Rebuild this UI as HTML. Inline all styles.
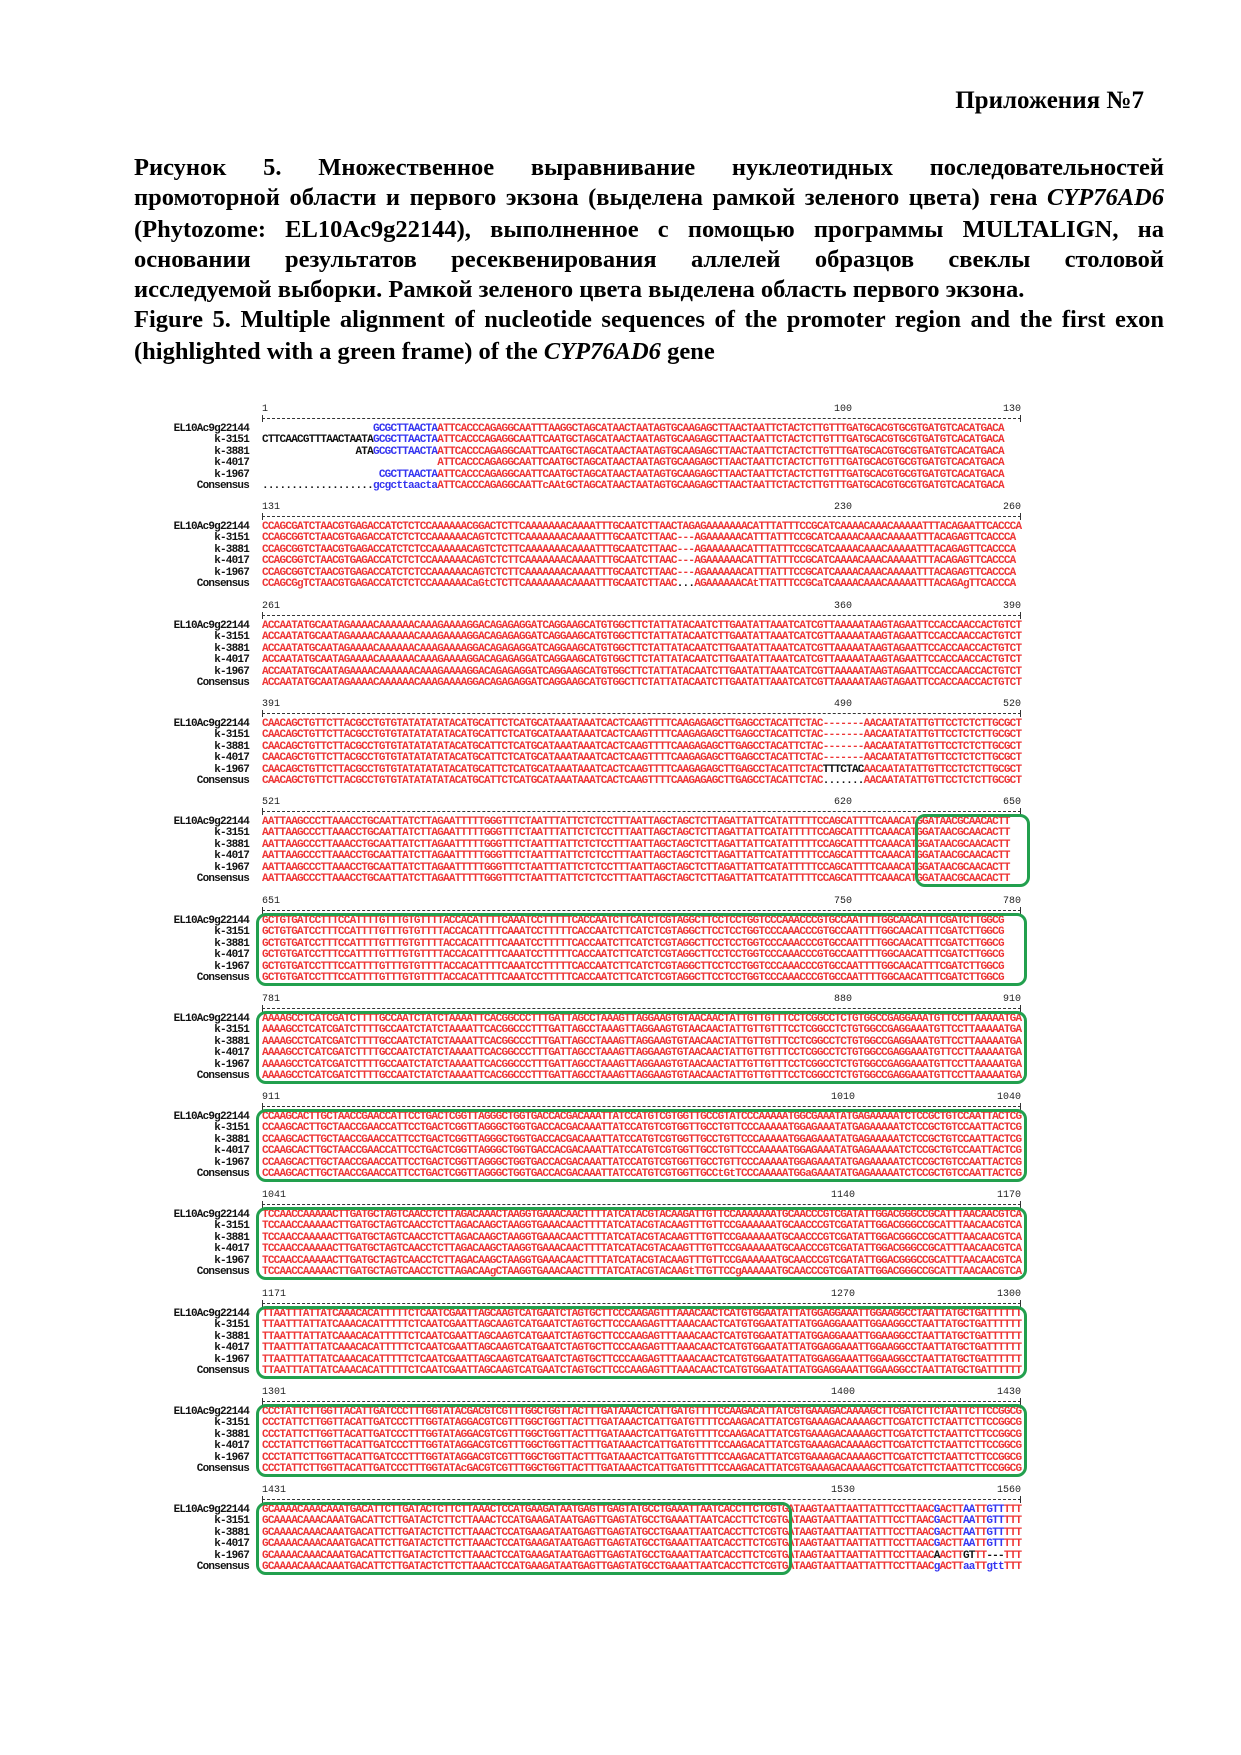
<!DOCTYPE html>
<html><head><meta charset="utf-8">
<style>
body{margin:0;background:#fff;}
#pg{position:relative;width:1241px;height:1755px;overflow:hidden;background:#fff;}
.hd{position:absolute;font-family:"Liberation Serif",serif;font-weight:bold;font-size:25px;color:#000;white-space:nowrap;}
.ln{position:absolute;left:134px;width:1030px;font-family:"Liberation Serif",serif;font-weight:bold;font-size:24.5px;line-height:31px;height:31px;color:#000;white-space:nowrap;}
.j{text-align:justify;text-align-last:justify;white-space:normal;}
.blk{position:absolute;left:0;width:1241px;height:100px;}
.num{position:absolute;top:6px;font-family:"Liberation Mono",monospace;font-size:10px;line-height:10px;color:#222;}
.rul{position:absolute;left:262px;width:759px;top:19px;border-top:1px dashed #333;height:0;}
.rul:before,.rul:after{content:"";position:absolute;top:-4px;width:1px;height:7px;background:#333;}
.rul:before{left:0}.rul:after{right:0}
.lab{position:absolute;left:140px;width:109px;top:25px;text-align:right;font-family:"Liberation Mono",monospace;font-size:11px;line-height:11.4px;letter-spacing:-0.8px;color:#111;font-weight:bold;white-space:pre;}
.seq{position:absolute;left:262px;top:25px;font-family:"Liberation Mono",monospace;font-size:11px;font-weight:bold;letter-spacing:-0.76px;line-height:11.4px;color:#ee3535;white-space:pre;}
.b{color:#3535f0}.k{color:#111}
.box{position:absolute;top:22px;height:73px;border:3px solid #22a04e;border-radius:10px;box-sizing:border-box;}
</style></head><body><div id="pg">
<div class="hd" style="right:97px;top:87px;">Приложения №7</div>
<div class="ln j" style="top:152px;">Рисунок 5. Множественное выравнивание нуклеотидных последовательностей</div>
<div class="ln j" style="top:182px;">промоторной области и первого экзона (выделена рамкой зеленого цвета) гена <i>CYP76AD6</i></div>
<div class="ln j" style="top:214px;">(Phytozome: EL10Ac9g22144), выполненное с помощью программы MULTALIGN, на</div>
<div class="ln j" style="top:244px;">основании результатов ресеквенирования аллелей образцов свеклы столовой</div>
<div class="ln" style="top:274px;">исследуемой выборки. Рамкой зеленого цвета выделена область первого экзона.</div>
<div class="ln j" style="top:304px;">Figure 5. Multiple alignment of nucleotide sequences of the promoter region and the first exon</div>
<div class="ln" style="top:336px;">(highlighted with a green frame) of the <i>CYP76AD6</i> gene</div>

<!-- Block 1 -->
<div class="blk" style="top:399px;">
<div class="num" style="left:262px;">1</div><div class="num" style="left:834px;">100</div><div class="num" style="left:1003px;">130</div>
<div class="rul"></div>
<div class="lab">EL10Ac9g22144
k-3151
k-3881
k-4017
k-1967
Consensus</div>
<div class="seq">                   <span class="b">GCGCTTAACTA</span>ATTCACCCAGAGGCAATTTAAGGCTAGCATAACTAATAGTGCAAGAGCTTAACTAATTCTACTCTTGTTTGATGCACGTGCGTGATGTCACATGACA
<span class="k">CTTCAACGTTTAACTAATA</span><span class="b">GCGCTTAACTA</span>ATTCACCCAGAGGCAATTCAATGCTAGCATAACTAATAGTGCAAGAGCTTAACTAATTCTACTCTTGTTTGATGCACGTGCGTGATGTCACATGACA
                <span class="k">ATA</span><span class="b">GCGCTTAACTA</span>ATTCACCCAGAGGCAATTCAATGCTAGCATAACTAATAGTGCAAGAGCTTAACTAATTCTACTCTTGTTTGATGCACGTGCGTGATGTCACATGACA
                              ATTCACCCAGAGGCAATTCAATGCTAGCATAACTAATAGTGCAAGAGCTTAACTAATTCTACTCTTGTTTGATGCACGTGCGTGATGTCACATGACA
                    <span class="b">CGCTTAACTA</span>ATTCACCCAGAGGCAATTCAATGCTAGCATAACTAATAGTGCAAGAGCTTAACTAATTCTACTCTTGTTTGATGCACGTGCGTGATGTCACATGACA
<span class="k">...................</span><span class="b">gcgcttaacta</span>ATTCACCCAGAGGCAATTcAAtGCTAGCATAACTAATAGTGCAAGAGCTTAACTAATTCTACTCTTGTTTGATGCACGTGCGTGATGTCACATGACA</div>
</div>

<!-- Block 2 -->
<div class="blk" style="top:497px;">
<div class="num" style="left:262px;">131</div><div class="num" style="left:834px;">230</div><div class="num" style="left:1003px;">260</div>
<div class="rul"></div>
<div class="lab">EL10Ac9g22144
k-3151
k-3881
k-4017
k-1967
Consensus</div>
<div class="seq">CCAGCGATCTAACGTGAGACCATCTCTCCAAAAAACGGACTCTTCAAAAAAACAAAATTTGCAATCTTAACTAGAGAAAAAAACATTTATTTCCGCATCAAAACAAACAAAAATTTACAGAATTCACCCA
CCAGCGGTCTAACGTGAGACCATCTCTCCAAAAAACAGTCTCTTCAAAAAAACAAAATTTGCAATCTTAAC---AGAAAAAACATTTATTTCCGCATCAAAACAAACAAAAATTTACAGAGTTCACCCA
CCAGCGGTCTAACGTGAGACCATCTCTCCAAAAAACAGTCTCTTCAAAAAAACAAAATTTGCAATCTTAAC---AGAAAAAACATTTATTTCCGCATCAAAACAAACAAAAATTTACAGAGTTCACCCA
CCAGCGGTCTAACGTGAGACCATCTCTCCAAAAAACAGTCTCTTCAAAAAAACAAAATTTGCAATCTTAAC---AGAAAAAACATTTATTTCCGCATCAAAACAAACAAAAATTTACAGAGTTCACCCA
CCAGCGGTCTAACGTGAGACCATCTCTCCAAAAAACAGTCTCTTCAAAAAAACAAAATTTGCAATCTTAAC---AGAAAAAACATTTATTTCCGCATCAAAACAAACAAAAATTTACAGAGTTCACCCA
CCAGCGgTCTAACGTGAGACCATCTCTCCAAAAAACaGtCTCTTCAAAAAAACAAAATTTGCAATCTTAAC<span class="k">...</span>AGAAAAAACAtTTATTTCCGCaTCAAAACAAACAAAAATTTACAGAgTTCACCCA</div>
</div>

<!-- Block 3 -->
<div class="blk" style="top:596px;">
<div class="num" style="left:262px;">261</div><div class="num" style="left:834px;">360</div><div class="num" style="left:1003px;">390</div>
<div class="rul"></div>
<div class="lab">EL10Ac9g22144
k-3151
k-3881
k-4017
k-1967
Consensus</div>
<div class="seq">ACCAATATGCAATAGAAAACAAAAAACAAAGAAAAGGACAGAGAGGATCAGGAAGCATGTGGCTTCTATTATACAATCTTGAATATTAAATCATCGTTAAAAATAAGTAGAATTCCACCAACCACTGTCT
ACCAATATGCAATAGAAAACAAAAAACAAAGAAAAGGACAGAGAGGATCAGGAAGCATGTGGCTTCTATTATACAATCTTGAATATTAAATCATCGTTAAAAATAAGTAGAATTCCACCAACCACTGTCT
ACCAATATGCAATAGAAAACAAAAAACAAAGAAAAGGACAGAGAGGATCAGGAAGCATGTGGCTTCTATTATACAATCTTGAATATTAAATCATCGTTAAAAATAAGTAGAATTCCACCAACCACTGTCT
ACCAATATGCAATAGAAAACAAAAAACAAAGAAAAGGACAGAGAGGATCAGGAAGCATGTGGCTTCTATTATACAATCTTGAATATTAAATCATCGTTAAAAATAAGTAGAATTCCACCAACCACTGTCT
ACCAATATGCAATAGAAAACAAAAAACAAAGAAAAGGACAGAGAGGATCAGGAAGCATGTGGCTTCTATTATACAATCTTGAATATTAAATCATCGTTAAAAATAAGTAGAATTCCACCAACCACTGTCT
ACCAATATGCAATAGAAAACAAAAAACAAAGAAAAGGACAGAGAGGATCAGGAAGCATGTGGCTTCTATTATACAATCTTGAATATTAAATCATCGTTAAAAATAAGTAGAATTCCACCAACCACTGTCT</div>
</div>

<!-- Block 4 -->
<div class="blk" style="top:694px;">
<div class="num" style="left:262px;">391</div><div class="num" style="left:834px;">490</div><div class="num" style="left:1003px;">520</div>
<div class="rul"></div>
<div class="lab">EL10Ac9g22144
k-3151
k-3881
k-4017
k-1967
Consensus</div>
<div class="seq">CAACAGCTGTTCTTACGCCTGTGTATATATATACATGCATTCTCATGCATAAATAAATCACTCAAGTTTTCAAGAGAGCTTGAGCCTACATTCTAC-------AACAATATATTGTTCCTCTCTTGCGCT
CAACAGCTGTTCTTACGCCTGTGTATATATATACATGCATTCTCATGCATAAATAAATCACTCAAGTTTTCAAGAGAGCTTGAGCCTACATTCTAC-------AACAATATATTGTTCCTCTCTTGCGCT
CAACAGCTGTTCTTACGCCTGTGTATATATATACATGCATTCTCATGCATAAATAAATCACTCAAGTTTTCAAGAGAGCTTGAGCCTACATTCTAC-------AACAATATATTGTTCCTCTCTTGCGCT
CAACAGCTGTTCTTACGCCTGTGTATATATATACATGCATTCTCATGCATAAATAAATCACTCAAGTTTTCAAGAGAGCTTGAGCCTACATTCTAC-------AACAATATATTGTTCCTCTCTTGCGCT
CAACAGCTGTTCTTACGCCTGTGTATATATATACATGCATTCTCATGCATAAATAAATCACTCAAGTTTTCAAGAGAGCTTGAGCCTACATTCTAC<span class="k">TTTCTAC</span>AACAATATATTGTTCCTCTCTTGCGCT
CAACAGCTGTTCTTACGCCTGTGTATATATATACATGCATTCTCATGCATAAATAAATCACTCAAGTTTTCAAGAGAGCTTGAGCCTACATTCTAC<span class="k">.......</span>AACAATATATTGTTCCTCTCTTGCGCT</div>
</div>

<!-- Block 5 -->
<div class="blk" style="top:792px;">
<div class="num" style="left:262px;">521</div><div class="num" style="left:834px;">620</div><div class="num" style="left:1003px;">650</div>
<div class="rul"></div>
<div class="lab">EL10Ac9g22144
k-3151
k-3881
k-4017
k-1967
Consensus</div>
<div class="seq">AATTAAGCCCTTAAACCTGCAATTATCTTAGAATTTTTGGGTTTCTAATTTATTCTCTCCTTTAATTAGCTAGCTCTTAGATTATTCATATTTTTCCAGCATTTTCAAACATGGATAACGCAACACTT
AATTAAGCCCTTAAACCTGCAATTATCTTAGAATTTTTGGGTTTCTAATTTATTCTCTCCTTTAATTAGCTAGCTCTTAGATTATTCATATTTTTCCAGCATTTTCAAACATGGATAACGCAACACTT
AATTAAGCCCTTAAACCTGCAATTATCTTAGAATTTTTGGGTTTCTAATTTATTCTCTCCTTTAATTAGCTAGCTCTTAGATTATTCATATTTTTCCAGCATTTTCAAACATGGATAACGCAACACTT
AATTAAGCCCTTAAACCTGCAATTATCTTAGAATTTTTGGGTTTCTAATTTATTCTCTCCTTTAATTAGCTAGCTCTTAGATTATTCATATTTTTCCAGCATTTTCAAACATGGATAACGCAACACTT
AATTAAGCCCTTAAACCTGCAATTATCTTAGAATTTTTGGGTTTCTAATTTATTCTCTCCTTTAATTAGCTAGCTCTTAGATTATTCATATTTTTCCAGCATTTTCAAACATGGATAACGCAACACTT
AATTAAGCCCTTAAACCTGCAATTATCTTAGAATTTTTGGGTTTCTAATTTATTCTCTCCTTTAATTAGCTAGCTCTTAGATTATTCATATTTTTCCAGCATTTTCAAACATGGATAACGCAACACTT</div>
<div class="box" style="left:915px;width:115px;"></div>
</div>

<!-- Block 6 -->
<div class="blk" style="top:891px;">
<div class="num" style="left:262px;">651</div><div class="num" style="left:834px;">750</div><div class="num" style="left:1003px;">780</div>
<div class="rul"></div>
<div class="lab">EL10Ac9g22144
k-3151
k-3881
k-4017
k-1967
Consensus</div>
<div class="seq">GCTGTGATCCTTTCCATTTTGTTTGTGTTTTACCACATTTTCAAATCCTTTTTCACCAATCTTCATCTCGTAGGCTTCCTCCTGGTCCCAAACCCGTGCCAATTTTGGCAACATTTCGATCTTGGCG
GCTGTGATCCTTTCCATTTTGTTTGTGTTTTACCACATTTTCAAATCCTTTTTCACCAATCTTCATCTCGTAGGCTTCCTCCTGGTCCCAAACCCGTGCCAATTTTGGCAACATTTCGATCTTGGCG
GCTGTGATCCTTTCCATTTTGTTTGTGTTTTACCACATTTTCAAATCCTTTTTCACCAATCTTCATCTCGTAGGCTTCCTCCTGGTCCCAAACCCGTGCCAATTTTGGCAACATTTCGATCTTGGCG
GCTGTGATCCTTTCCATTTTGTTTGTGTTTTACCACATTTTCAAATCCTTTTTCACCAATCTTCATCTCGTAGGCTTCCTCCTGGTCCCAAACCCGTGCCAATTTTGGCAACATTTCGATCTTGGCG
GCTGTGATCCTTTCCATTTTGTTTGTGTTTTACCACATTTTCAAATCCTTTTTCACCAATCTTCATCTCGTAGGCTTCCTCCTGGTCCCAAACCCGTGCCAATTTTGGCAACATTTCGATCTTGGCG
GCTGTGATCCTTTCCATTTTGTTTGTGTTTTACCACATTTTCAAATCCTTTTTCACCAATCTTCATCTCGTAGGCTTCCTCCTGGTCCCAAACCCGTGCCAATTTTGGCAACATTTCGATCTTGGCG</div>
<div class="box" style="left:256px;width:771px;"></div>
</div>

<!-- Block 7 -->
<div class="blk" style="top:989px;">
<div class="num" style="left:262px;">781</div><div class="num" style="left:834px;">880</div><div class="num" style="left:1003px;">910</div>
<div class="rul"></div>
<div class="lab">EL10Ac9g22144
k-3151
k-3881
k-4017
k-1967
Consensus</div>
<div class="seq">AAAAGCCTCATCGATCTTTTGCCAATCTATCTAAAATTCACGGCCCTTTGATTAGCCTAAAGTTAGGAAGTGTAACAACTATTGTTGTTTCCTCGGCCTCTGTGGCCGAGGAAATGTTCCTTAAAAATGA
AAAAGCCTCATCGATCTTTTGCCAATCTATCTAAAATTCACGGCCCTTTGATTAGCCTAAAGTTAGGAAGTGTAACAACTATTGTTGTTTCCTCGGCCTCTGTGGCCGAGGAAATGTTCCTTAAAAATGA
AAAAGCCTCATCGATCTTTTGCCAATCTATCTAAAATTCACGGCCCTTTGATTAGCCTAAAGTTAGGAAGTGTAACAACTATTGTTGTTTCCTCGGCCTCTGTGGCCGAGGAAATGTTCCTTAAAAATGA
AAAAGCCTCATCGATCTTTTGCCAATCTATCTAAAATTCACGGCCCTTTGATTAGCCTAAAGTTAGGAAGTGTAACAACTATTGTTGTTTCCTCGGCCTCTGTGGCCGAGGAAATGTTCCTTAAAAATGA
AAAAGCCTCATCGATCTTTTGCCAATCTATCTAAAATTCACGGCCCTTTGATTAGCCTAAAGTTAGGAAGTGTAACAACTATTGTTGTTTCCTCGGCCTCTGTGGCCGAGGAAATGTTCCTTAAAAATGA
AAAAGCCTCATCGATCTTTTGCCAATCTATCTAAAATTCACGGCCCTTTGATTAGCCTAAAGTTAGGAAGTGTAACAACTATTGTTGTTTCCTCGGCCTCTGTGGCCGAGGAAATGTTCCTTAAAAATGA</div>
<div class="box" style="left:256px;width:771px;"></div>
</div>

<!-- Block 8 -->
<div class="blk" style="top:1087px;">
<div class="num" style="left:262px;">911</div><div class="num" style="left:831px;">1010</div><div class="num" style="left:997px;">1040</div>
<div class="rul"></div>
<div class="lab">EL10Ac9g22144
k-3151
k-3881
k-4017
k-1967
Consensus</div>
<div class="seq">CCAAGCACTTGCTAACCGAACCATTCCTGACTCGGTTAGGGCTGGTGACCACGACAAATTATCCATGTCGTGGTTGCCGTATCCCAAAAATGGCGAAATATGAGAAAAATCTCCGCTGTCCAATTACTCG
CCAAGCACTTGCTAACCGAACCATTCCTGACTCGGTTAGGGCTGGTGACCACGACAAATTATCCATGTCGTGGTTGCCTGTTCCCAAAAATGGAGAAATATGAGAAAAATCTCCGCTGTCCAATTACTCG
CCAAGCACTTGCTAACCGAACCATTCCTGACTCGGTTAGGGCTGGTGACCACGACAAATTATCCATGTCGTGGTTGCCTGTTCCCAAAAATGGAGAAATATGAGAAAAATCTCCGCTGTCCAATTACTCG
CCAAGCACTTGCTAACCGAACCATTCCTGACTCGGTTAGGGCTGGTGACCACGACAAATTATCCATGTCGTGGTTGCCTGTTCCCAAAAATGGAGAAATATGAGAAAAATCTCCGCTGTCCAATTACTCG
CCAAGCACTTGCTAACCGAACCATTCCTGACTCGGTTAGGGCTGGTGACCACGACAAATTATCCATGTCGTGGTTGCCTGTTCCCAAAAATGGAGAAATATGAGAAAAATCTCCGCTGTCCAATTACTCG
CCAAGCACTTGCTAACCGAACCATTCCTGACTCGGTTAGGGCTGGTGACCACGACAAATTATCCATGTCGTGGTTGCCtGtTCCCAAAAATGGaGAAATATGAGAAAAATCTCCGCTGTCCAATTACTCG</div>
<div class="box" style="left:256px;width:771px;"></div>
</div>

<!-- Block 9 -->
<div class="blk" style="top:1185px;">
<div class="num" style="left:262px;">1041</div><div class="num" style="left:831px;">1140</div><div class="num" style="left:997px;">1170</div>
<div class="rul"></div>
<div class="lab">EL10Ac9g22144
k-3151
k-3881
k-4017
k-1967
Consensus</div>
<div class="seq">TCCAACCAAAAACTTGATGCTAGTCAACCTCTTAGACAAACTAAGGTGAAACAACTTTTATCATACGTACAAGATTGTTCCAAAAAAATGCAACCCGTCGATATTGGACGGGCCGCATTTAACAACGTCA
TCCAACCAAAAACTTGATGCTAGTCAACCTCTTAGACAAGCTAAGGTGAAACAACTTTTATCATACGTACAAGTTTGTTCCGAAAAAATGCAACCCGTCGATATTGGACGGGCCGCATTTAACAACGTCA
TCCAACCAAAAACTTGATGCTAGTCAACCTCTTAGACAAGCTAAGGTGAAACAACTTTTATCATACGTACAAGTTTGTTCCGAAAAAATGCAACCCGTCGATATTGGACGGGCCGCATTTAACAACGTCA
TCCAACCAAAAACTTGATGCTAGTCAACCTCTTAGACAAGCTAAGGTGAAACAACTTTTATCATACGTACAAGTTTGTTCCGAAAAAATGCAACCCGTCGATATTGGACGGGCCGCATTTAACAACGTCA
TCCAACCAAAAACTTGATGCTAGTCAACCTCTTAGACAAGCTAAGGTGAAACAACTTTTATCATACGTACAAGTTTGTTCCGAAAAAATGCAACCCGTCGATATTGGACGGGCCGCATTTAACAACGTCA
TCCAACCAAAAACTTGATGCTAGTCAACCTCTTAGACAAgCTAAGGTGAAACAACTTTTATCATACGTACAAGtTTGTTCCgAAAAAATGCAACCCGTCGATATTGGACGGGCCGCATTTAACAACGTCA</div>
<div class="box" style="left:256px;width:771px;"></div>
</div>

<!-- Block 10 -->
<div class="blk" style="top:1284px;">
<div class="num" style="left:262px;">1171</div><div class="num" style="left:831px;">1270</div><div class="num" style="left:997px;">1300</div>
<div class="rul"></div>
<div class="lab">EL10Ac9g22144
k-3151
k-3881
k-4017
k-1967
Consensus</div>
<div class="seq">TTAATTTATTATCAAACACATTTTTCTCAATCGAATTAGCAAGTCATGAATCTAGTGCTTCCCAAGAGTTTAAACAACTCATGTGGAATATTATGGAGGAAATTGGAAGGCCTAATTATGCTGATTTTTT
TTAATTTATTATCAAACACATTTTTCTCAATCGAATTAGCAAGTCATGAATCTAGTGCTTCCCAAGAGTTTAAACAACTCATGTGGAATATTATGGAGGAAATTGGAAGGCCTAATTATGCTGATTTTTT
TTAATTTATTATCAAACACATTTTTCTCAATCGAATTAGCAAGTCATGAATCTAGTGCTTCCCAAGAGTTTAAACAACTCATGTGGAATATTATGGAGGAAATTGGAAGGCCTAATTATGCTGATTTTTT
TTAATTTATTATCAAACACATTTTTCTCAATCGAATTAGCAAGTCATGAATCTAGTGCTTCCCAAGAGTTTAAACAACTCATGTGGAATATTATGGAGGAAATTGGAAGGCCTAATTATGCTGATTTTTT
TTAATTTATTATCAAACACATTTTTCTCAATCGAATTAGCAAGTCATGAATCTAGTGCTTCCCAAGAGTTTAAACAACTCATGTGGAATATTATGGAGGAAATTGGAAGGCCTAATTATGCTGATTTTTT
TTAATTTATTATCAAACACATTTTTCTCAATCGAATTAGCAAGTCATGAATCTAGTGCTTCCCAAGAGTTTAAACAACTCATGTGGAATATTATGGAGGAAATTGGAAGGCCTAATTATGCTGATTTTTT</div>
<div class="box" style="left:256px;width:771px;"></div>
</div>

<!-- Block 11 -->
<div class="blk" style="top:1382px;">
<div class="num" style="left:262px;">1301</div><div class="num" style="left:831px;">1400</div><div class="num" style="left:997px;">1430</div>
<div class="rul"></div>
<div class="lab">EL10Ac9g22144
k-3151
k-3881
k-4017
k-1967
Consensus</div>
<div class="seq">CCCTATTCTTGGTTACATTGATCCCTTTGGTATACGACGTCGTTTGGCTGGTTACTTTGATAAACTCATTGATGTTTTCCAAGACATTATCGTGAAAGACAAAAGCTTCGATCTTCTAATTCTTCCGGCG
CCCTATTCTTGGTTACATTGATCCCTTTGGTATAGGACGTCGTTTGGCTGGTTACTTTGATAAACTCATTGATGTTTTCCAAGACATTATCGTGAAAGACAAAAGCTTCGATCTTCTAATTCTTCCGGCG
CCCTATTCTTGGTTACATTGATCCCTTTGGTATAGGACGTCGTTTGGCTGGTTACTTTGATAAACTCATTGATGTTTTCCAAGACATTATCGTGAAAGACAAAAGCTTCGATCTTCTAATTCTTCCGGCG
CCCTATTCTTGGTTACATTGATCCCTTTGGTATAGGACGTCGTTTGGCTGGTTACTTTGATAAACTCATTGATGTTTTCCAAGACATTATCGTGAAAGACAAAAGCTTCGATCTTCTAATTCTTCCGGCG
CCCTATTCTTGGTTACATTGATCCCTTTGGTATAGGACGTCGTTTGGCTGGTTACTTTGATAAACTCATTGATGTTTTCCAAGACATTATCGTGAAAGACAAAAGCTTCGATCTTCTAATTCTTCCGGCG
CCCTATTCTTGGTTACATTGATCCCTTTGGTATAcGACGTCGTTTGGCTGGTTACTTTGATAAACTCATTGATGTTTTCCAAGACATTATCGTGAAAGACAAAAGCTTCGATCTTCTAATTCTTCCGGCG</div>
<div class="box" style="left:256px;width:771px;"></div>
</div>

<!-- Block 12 -->
<div class="blk" style="top:1480px;">
<div class="num" style="left:262px;">1431</div><div class="num" style="left:831px;">1530</div><div class="num" style="left:997px;">1560</div>
<div class="rul"></div>
<div class="lab">EL10Ac9g22144
k-3151
k-3881
k-4017
k-1967
Consensus</div>
<div class="seq">GCAAAACAAACAAATGACATTCTTGATACTCTTCTTAAACTCCATGAAGATAATGAGTTGAGTATGCCTGAAATTAATCACCTTCTCGTGATAAGTAATTAATTATTTCCTTAAC<span class="b">G</span>ACTT<span class="b">AA</span>TT<span class="b">GTT</span>TTT
GCAAAACAAACAAATGACATTCTTGATACTCTTCTTAAACTCCATGAAGATAATGAGTTGAGTATGCCTGAAATTAATCACCTTCTCGTGATAAGTAATTAATTATTTCCTTAAC<span class="b">G</span>ACTT<span class="b">AA</span>TT<span class="b">GTT</span>TTT
GCAAAACAAACAAATGACATTCTTGATACTCTTCTTAAACTCCATGAAGATAATGAGTTGAGTATGCCTGAAATTAATCACCTTCTCGTGATAAGTAATTAATTATTTCCTTAAC<span class="b">G</span>ACTT<span class="b">AA</span>TT<span class="b">GTT</span>TTT
GCAAAACAAACAAATGACATTCTTGATACTCTTCTTAAACTCCATGAAGATAATGAGTTGAGTATGCCTGAAATTAATCACCTTCTCGTGATAAGTAATTAATTATTTCCTTAAC<span class="b">G</span>ACTT<span class="b">AA</span>TT<span class="b">GTT</span>TTT
GCAAAACAAACAAATGACATTCTTGATACTCTTCTTAAACTCCATGAAGATAATGAGTTGAGTATGCCTGAAATTAATCACCTTCTCGTGATAAGTAATTAATTATTTCCTTAAC<span class="k">A</span>ACTT<span class="k">GT</span>TT<span class="k">---</span>TTT
GCAAAACAAACAAATGACATTCTTGATACTCTTCTTAAACTCCATGAAGATAATGAGTTGAGTATGCCTGAAATTAATCACCTTCTCGTGATAAGTAATTAATTATTTCCTTAAC<span class="b">g</span>ACTT<span class="b">aa</span>TT<span class="b">gtt</span>TTT</div>
<div class="box" style="left:256px;width:536px;"></div>
</div>

</div></body></html>
